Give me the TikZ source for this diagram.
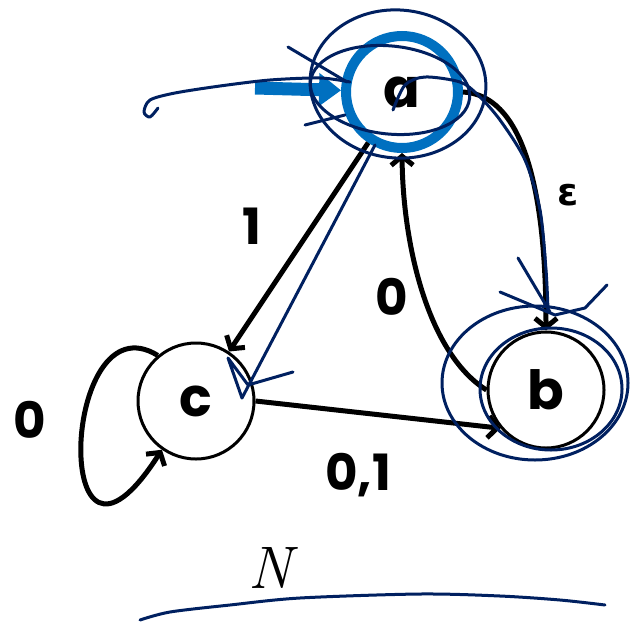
\documentclass[tikz,border=0pt]{standalone}
\usepackage{fontspec}
\usetikzlibrary{arrows.meta}
\newfontfamily\diagfont{Poppins}
\newfontfamily\grkfont{DejaVu Sans}
\newcommand\statefont{\diagfont\bfseries\fontsize{54}{54}\selectfont}
\newcommand\lblfont{\diagfont\bfseries\fontsize{50}{50}\selectfont}
\definecolor{ringblue}{HTML}{0070C0}
\definecolor{inkblue}{HTML}{002060}
\begin{document}
\begin{tikzpicture}[x=1pt, y=1pt, >={Straight Barb[length=9pt,width=22pt]},
    state/.style={circle, draw, line width=3pt, minimum size=116pt, inner sep=0pt, font=\statefont},
    edge/.style={->, line width=5pt},
    lbl/.style={font=\lblfont},
    scribble/.style={draw=inkblue, line width=3pt, line cap=round, line join=round}]
  \useasboundingbox (0,0) rectangle (634,-624);
  \node[state, draw=ringblue, line width=10pt, minimum size=112pt] (a) at (402,-92) {a};
  \node[state] (c) at (196,-401) {c};
  \node[state] (b) at (546,-390) {b};
  \coordinate (start) at (255,-88);
  \draw[ringblue, line width=13pt, -{Triangle[length=22pt,width=32pt]}] (start) -- (a);
  \draw[edge] (a) -- (c);
  \draw[edge] (a.east) .. controls (520,-95) and (546,-180) .. (b.north);
  \draw[edge] (b.west) .. controls (430,-355) and (403,-250) .. (a.south);
  \draw[edge] (c.130) .. controls (60,-295) and (50,-625) .. (c.235);
  \draw[edge] (c.east) -- (b.220);
  \node[lbl] (one) at (252,-226) {1};
  \node[font=\grkfont\bfseries\fontsize{38}{38}\selectfont] (eps) at (568,-195) {ε};
  \node[lbl] (zeroba) at (392,-297) {0};
  \node[lbl] (zerocc) at (30,-420) {0};
  \node[lbl] (zeroone) at (358,-475) {0,1};
  \node[font=\fontsize{60}{60}\selectfont\itshape] (name) at (270,-568) {N};
  % hand-drawn marks
  \draw[scribble] plot[smooth] coordinates {(158,-108) (150,-117) (144,-112) (150,-100) (175,-93) (220,-86) (270,-80) (320,-78) (350,-82)};
  \draw[scribble, rotate around={-5:(398,-84)}] (398,-84) ellipse[x radius=88, y radius=74];
  \draw[scribble, rotate around={-6:(390,-90)}] (390,-90) ellipse[x radius=80, y radius=44];
  \draw[scribble] (288,-47) -- (347,-82);
  \draw[scribble] (305,-125) -- (345,-115);
  \draw[scribble] plot[smooth] coordinates {(393,-110) (405,-85) (425,-77) (460,-82) (478,-95) (500,-120) (525,-160) (540,-210) (546,-270) (548,-310)};
  \draw[scribble] (518,-258) -- (550,-312);
  \draw[scribble] (500,-292) -- (555,-315) -- (585,-308) -- (607,-285);
  \draw[scribble] (535,-383) ellipse[x radius=93, y radius=77];
  \draw[scribble] (551,-389) ellipse[x radius=71, y radius=61];
  \draw[scribble] (375,-145) -- (242,-398) -- (228,-358) -- (248,-385) -- (293,-372);
  \draw[scribble] plot[smooth] coordinates {(140,-620) (170,-612) (230,-605) (300,-598) (420,-594) (500,-596) (560,-600) (605,-605)};
\end{tikzpicture}
\end{document}
